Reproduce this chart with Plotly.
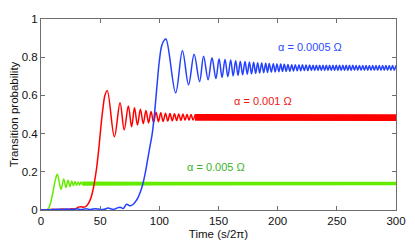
import plotly.graph_objects as go

# ---------------- data ----------------
x_ticks = [0, 50, 100, 150, 200, 250, 300]
x_ticktext = ["0", "50", "100", "150", "200", "250", "300"]
y_ticks = [0, 0.2, 0.4, 0.6, 0.8, 1.0]
y_ticktext = ["0", "0.2", "0.4", "0.6", "0.8", "1"]

# alpha = 0.005 Omega (green)
green_t = [0, 3, 5, 6.5, 8, 10, 12, 13.8, 16.9, 19.2, 21.1, 22.9, 24.5, 26.0, 27.4,
           28.8, 30.1, 31.4, 32.6, 33.8, 35.0]
green_p = [0, 0, 0.002, 0.01, 0.035, 0.09, 0.155, 0.187, 0.108, 0.162, 0.118, 0.156,
           0.123, 0.152, 0.127, 0.149, 0.129, 0.147, 0.130, 0.146, 0.1315]
green_band_t = [35, 60, 100, 300]
green_band_hi = [0.1455, 0.145, 0.1445, 0.144]
green_band_lo = [0.1315, 0.132, 0.1325, 0.133]

# alpha = 0.001 Omega (red)
red_t = [0, 6, 10, 14, 18, 22, 26, 29, 31.5, 34, 36.5, 39, 41, 43, 45, 47, 49, 51,
         52.5, 54, 56,
         62, 66.8, 70.3, 73.8, 76.6, 79.0, 81.5, 84.0, 86.4, 88.7, 90.9, 93.0, 95.1,
         97.2, 99.2, 101.2, 103.2, 105.2, 107.1, 109.0, 110.9, 112.8, 114.6, 116.4,
         118.2, 120.0, 121.7, 123.4, 125.1, 126.8, 128.5, 130.2]
red_p = [0, 0.001, 0.004, 0.002, 0.005, 0.002, 0.006, 0.005, 0.015, 0.017, 0.015,
         0.025, 0.045, 0.08, 0.14, 0.22, 0.33, 0.46, 0.54, 0.60, 0.625,
         0.384, 0.562, 0.419, 0.545, 0.436, 0.535, 0.445, 0.527, 0.452, 0.521, 0.456,
         0.516, 0.459, 0.512, 0.462, 0.509, 0.464, 0.507, 0.466, 0.505, 0.467, 0.504,
         0.468, 0.503, 0.469, 0.502, 0.470, 0.501, 0.470, 0.500, 0.471, 0.499]
red_band_t = [130.2, 180, 300]
red_band_hi = [0.499, 0.498, 0.497]
red_band_lo = [0.471, 0.470, 0.470]

# alpha = 0.0005 Omega (blue)
blue_t = [0, 8, 14, 18, 22, 26, 30, 34, 38, 42, 46, 50, 53.5, 56.6, 61, 63.5, 66.8,
          69.5, 72.4, 75.5, 78, 80, 82, 84, 86, 88, 90, 92, 94, 96, 98, 100, 102, 104,
          105.6,
          113.8, 119.5, 124.7, 129.4, 134.0, 137.4, 141.2, 144.5, 147.8, 150.5,
          153.0, 155.5, 157.9, 160.3, 162.4, 164.5, 166.5, 168.4, 170.4, 172.4, 174.3,
          176.1, 177.9, 179.7, 181.4, 183.1, 184.8, 186.5, 188.2, 189.9, 191.4, 192.9,
          194.6, 196.3, 197.9, 199.4, 201.0, 202.6, 204.1, 205.6, 207.2, 208.7, 210.3,
          211.9, 213.4, 214.9, 216.5, 218.0, 219.5, 220.9, 222.5, 224.0, 225.5, 227.0,
          228.5, 229.9,
          231.3, 232.7, 234.1, 235.5, 236.9, 238.3, 239.7, 241.1, 242.5, 243.9, 245.3,
          246.7, 248.1, 249.5, 250.9, 252.3, 253.7, 255.1, 256.5, 257.9, 259.3, 260.7,
          262.1, 263.5, 264.9, 266.3, 267.7, 269.1, 270.5, 271.9, 273.3, 274.7, 276.1,
          277.5, 278.9, 280.3, 281.7, 283.1, 284.5, 285.9, 287.3, 288.7, 290.1, 291.5,
          292.9, 294.3, 295.7, 297.1, 298.5, 299.9]
blue_p = [0, 0.001, 0.004, 0.002, 0.005, 0.002, 0.006, 0.003, 0.006, 0.003, 0.007,
          0.003, 0.004, 0.010, 0.003, 0.008, 0.015, 0.008, 0.030, 0.022, 0.030, 0.045,
          0.065, 0.095, 0.135, 0.19, 0.26, 0.33, 0.40, 0.51, 0.65, 0.78, 0.86, 0.888,
          0.895,
          0.614, 0.834, 0.656, 0.816, 0.672, 0.805, 0.682, 0.797, 0.688, 0.792,
          0.694, 0.788, 0.698, 0.785, 0.702, 0.782, 0.705, 0.779, 0.708, 0.777, 0.711,
          0.775, 0.713, 0.773, 0.715, 0.771, 0.717, 0.770, 0.719, 0.768, 0.720, 0.767,
          0.722, 0.766, 0.723, 0.765, 0.724, 0.764, 0.725, 0.763, 0.726, 0.762, 0.727,
          0.761, 0.728, 0.761, 0.729, 0.760, 0.729, 0.760, 0.730, 0.759, 0.730, 0.759,
          0.731, 0.758,
          0.731, 0.758, 0.731, 0.758, 0.731, 0.758, 0.731, 0.758, 0.731, 0.758, 0.731,
          0.758, 0.731, 0.758, 0.731, 0.758, 0.731, 0.758, 0.731, 0.758, 0.731, 0.758,
          0.731, 0.758, 0.732, 0.757, 0.732, 0.757, 0.732, 0.757, 0.732, 0.757, 0.732,
          0.757, 0.732, 0.757, 0.732, 0.757, 0.732, 0.757, 0.732, 0.757, 0.732, 0.757,
          0.732, 0.757, 0.732, 0.757, 0.732, 0.757]

labels = ["α = 0.0005 Ω", "α = 0.001 Ω", "α = 0.005 Ω"]
label_t = [227, 188, 148]
label_p = [0.853, 0.571, 0.227]

# ---------------- styles ----------------
GREEN = "rgb(100,235,0)"
RED = "rgb(255,0,0)"
BLUE = "rgb(35,65,255)"
label_colors = ["rgb(45,75,255)", "rgb(240,20,20)", "rgb(60,180,40)"]
FONT = "Liberation Sans, Arial, Helvetica, sans-serif"
AX = "rgb(110,110,110)"
LW = 1.5

fig = go.Figure()

# green
fig.add_trace(go.Scatter(x=green_t, y=green_p, mode="lines",
                         line=dict(color=GREEN, width=LW, shape="spline", smoothing=1),
                         showlegend=False, hoverinfo="skip"))
fig.add_trace(go.Scatter(x=green_band_t + green_band_t[::-1],
                         y=green_band_hi + green_band_lo[::-1],
                         mode="lines", fill="toself", fillcolor=GREEN,
                         line=dict(color=GREEN, width=LW),
                         showlegend=False, hoverinfo="skip"))
# red
fig.add_trace(go.Scatter(x=red_t, y=red_p, mode="lines",
                         line=dict(color=RED, width=LW, shape="spline", smoothing=1),
                         showlegend=False, hoverinfo="skip"))
fig.add_trace(go.Scatter(x=red_band_t + red_band_t[::-1],
                         y=red_band_hi + red_band_lo[::-1],
                         mode="lines", fill="toself", fillcolor=RED,
                         line=dict(color=RED, width=LW),
                         showlegend=False, hoverinfo="skip"))
# blue
fig.add_trace(go.Scatter(x=blue_t, y=blue_p, mode="lines",
                         line=dict(color=BLUE, width=LW, shape="spline", smoothing=1),
                         showlegend=False, hoverinfo="skip"))

for txt, tx, py, c in zip(labels, label_t, label_p, label_colors):
    fig.add_annotation(x=tx, y=py, xref="x", yref="y", text=txt, showarrow=False,
                       font=dict(family=FONT, size=11, color=c))

axis_common = dict(showgrid=False, zeroline=False, showline=True, linecolor=AX,
                   linewidth=1, mirror="ticks", ticks="inside", ticklen=4,
                   tickcolor=AX, tickwidth=1, automargin=False,
                   tickfont=dict(family=FONT, size=11.5, color="#111"))

# page body has an 8px default margin, so the figure is sized/offset to compensate
fig.update_layout(
    width=407, height=240,
    margin=dict(l=33, r=19, t=11, b=38),
    paper_bgcolor="white", plot_bgcolor="white",
    xaxis=dict(range=[0, 300], tickvals=x_ticks, ticktext=x_ticktext,
               title=dict(text="Time (s/2π)", font=dict(family=FONT, size=11.5, color="#111"),
                          standoff=4),
               **axis_common),
    yaxis=dict(range=[0, 1], tickvals=y_ticks, ticktext=y_ticktext,
               title=dict(text="Transition probability",
                          font=dict(family=FONT, size=11.5, color="#111"), standoff=6),
               **axis_common),
)

fig.write_html("out.html")
